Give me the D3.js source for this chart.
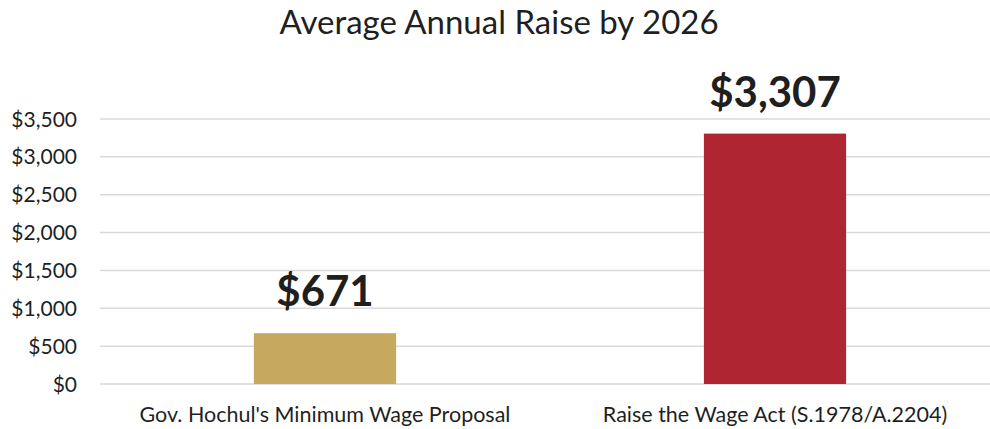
<!DOCTYPE html>
<html>
<head>
<meta charset="utf-8">
<script src="https://cdn.jsdelivr.net/npm/d3@7"></script>
<style>
	body { margin: 0; background: #fff; }
	svg text { font-family: Lato, "Open Sans", sans-serif; fill: #1f1f1f; }
</style>
</head>
<body>
<div id="chart"></div>
<script>
'use strict';

var categories = ["Gov. Hochul's Minimum Wage Proposal", "Raise the Wage Act (S.1978/A.2204)"];
var values = [671, 3307];
var barColors = ['#c6a95e', '#b02532'];
var yTicks = [0, 500, 1000, 1500, 2000, 2500, 3000, 3500];
var title = 'Average Annual Raise by 2026';

var width = 990,
	height = 429;

var svg = d3.select('#chart').append('svg')
	.attr('width', width)
	.attr('height', height);

var x = d3.scaleBand()
	.domain(categories)
	.range([100, 1000])
	.paddingInner(0.684)
	.paddingOuter(0.342);

var y = d3.scaleLinear()
	.domain([0, 3500])
	.range([384, 119]);

var fmt = d3.format('$,');

svg.append('text')
	.attr('x', 499)
	.attr('y', 34)
	.attr('text-anchor', 'middle')
	.style('font-size', '33px')
	.text(title);

// gridlines
svg.append('g')
	.selectAll('line')
	.data(yTicks)
	.enter().append('line')
	.attr('x1', 100)
	.attr('x2', 990)
	.attr('y1', function(d) { return y(d); })
	.attr('y2', function(d) { return y(d); })
	.style('stroke', '#d9d9d9')
	.style('stroke-width', 1.5);

// y labels
svg.append('g')
	.selectAll('text')
	.data(yTicks)
	.enter().append('text')
	.attr('x', 77)
	.attr('y', function(d) { return y(d); })
	.attr('dy', '0.36em')
	.attr('text-anchor', 'end')
	.style('font-size', '21px')
	.text(function(d) { return fmt(d); });

// bars
svg.append('g')
	.selectAll('rect')
	.data(values)
	.enter().append('rect')
	.attr('x', function(d, i) { return x(categories[i]); })
	.attr('width', x.bandwidth())
	.attr('y', function(d) { return y(d); })
	.attr('height', function(d) { return y(0) - y(d); })
	.style('fill', function(d, i) { return barColors[i]; });

// value labels
svg.append('g')
	.selectAll('text')
	.data(values)
	.enter().append('text')
	.attr('x', function(d, i) { return x(categories[i]) + x.bandwidth() / 2; })
	.attr('y', function(d) { return y(d) - 27; })
	.attr('text-anchor', 'middle')
	.style('font-size', '42px')
	.style('font-weight', 'bold')
	.text(function(d) { return fmt(d); });

// category labels
svg.append('g')
	.selectAll('text')
	.data(categories)
	.enter().append('text')
	.attr('x', function(d) { return x(d) + x.bandwidth() / 2; })
	.attr('y', 422)
	.attr('text-anchor', 'middle')
	.style('font-size', '21.5px')
	.text(function(d) { return d; });
</script>
</body>
</html>
